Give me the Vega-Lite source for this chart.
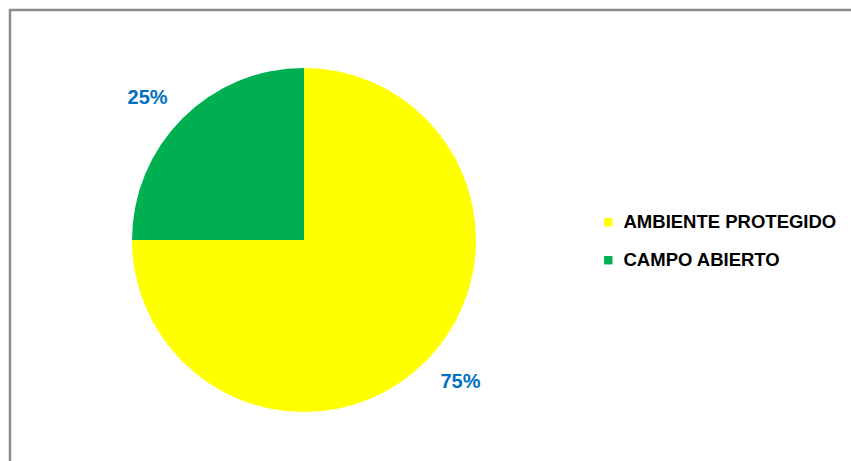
{
  "$schema": "https://vega.github.io/schema/vega-lite/v6.json",
  "width": 870,
  "height": 480,
  "autosize": {"type": "none"},
  "padding": {"left": 10, "top": 10, "right": 0, "bottom": 0},
  "background": "white",
  "config": {
    "view": {"stroke": null},
    "font": "Liberation Sans"
  },
  "data": {
    "values": [
      {"categoria": "AMBIENTE PROTEGIDO", "valor": 75, "orden": 1, "etiqueta": "75%"},
      {"categoria": "CAMPO ABIERTO", "valor": 25, "orden": 2, "etiqueta": "25%"}
    ]
  },
  "layer": [
    {
      "data": {"values": [{"marco": 1}]},
      "mark": {"type": "rect", "fill": null, "fillOpacity": 0, "stroke": "#8c8c8c", "strokeWidth": 2.5},
      "encoding": {}
    },
    {
      "mark": {"type": "arc", "outerRadius": 172, "x": 294, "y": 230},
      "encoding": {
        "theta": {"field": "valor", "type": "quantitative", "stack": true},
        "order": {"field": "orden", "type": "quantitative"},
        "color": {
          "field": "categoria",
          "type": "nominal",
          "scale": {"domain": ["AMBIENTE PROTEGIDO", "CAMPO ABIERTO"], "range": ["#FFFF00", "#00B050"]},
          "legend": {
            "title": null,
            "orient": "none",
            "legendX": 589,
            "legendY": 203,
            "symbolType": "square",
            "symbolSize": 70,
            "symbolStrokeWidth": 0,
            "labelFont": "Liberation Sans",
            "labelFontWeight": "bold",
            "labelFontSize": 18.5,
            "labelColor": "#000000",
            "labelOffset": 6,
            "rowPadding": 19,
            "labelLimit": 400
          }
        }
      }
    },
    {
      "mark": {"type": "text", "radius": 211, "thetaOffset": -0.05, "x": 294, "y": 230, "font": "Liberation Sans", "fontWeight": "bold", "fontSize": 20, "color": "#0070C0"},
      "encoding": {
        "theta": {"field": "valor", "type": "quantitative", "stack": true},
        "order": {"field": "orden", "type": "quantitative"},
        "text": {"field": "etiqueta", "type": "nominal"}
      }
    }
  ]
}
